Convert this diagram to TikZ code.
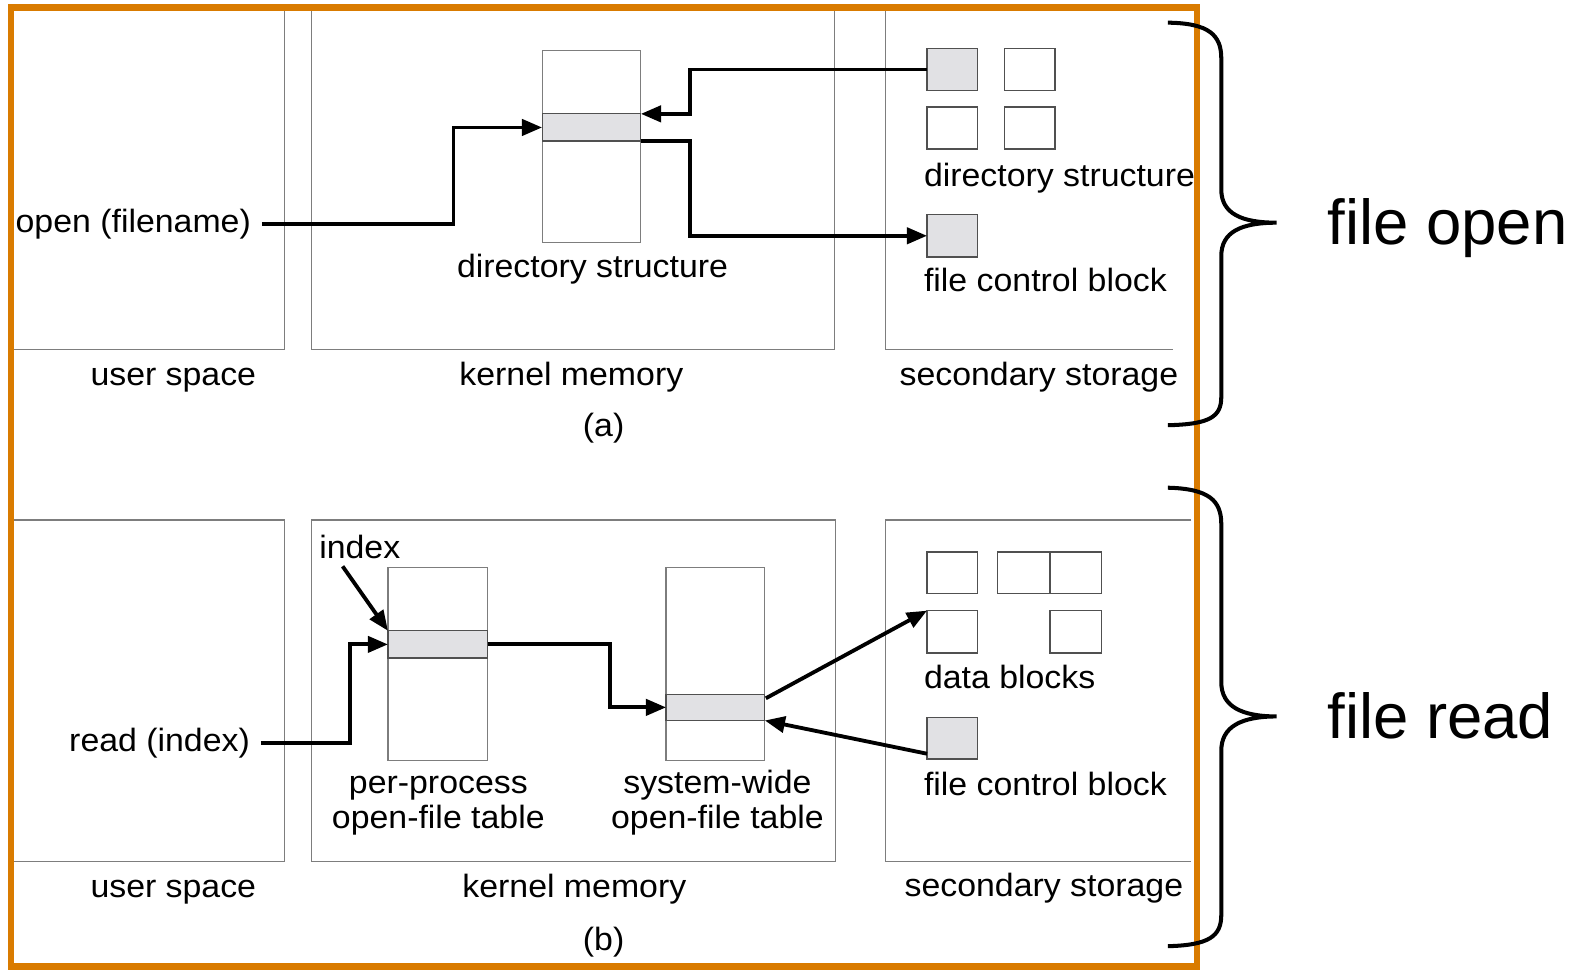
\documentclass[tikz,border=0pt]{standalone}
\usepackage{fontspec}
\setmainfont{Liberation Sans}
\newfontfamily\diagfont[FakeStretch=1.05]{Liberation Sans}
\usetikzlibrary{arrows.meta,calc}
\definecolor{frameorange}{RGB}{217,123,0}
\definecolor{rowgray}{RGB}{225,225,228}
\definecolor{linegray}{RGB}{125,125,125}
\definecolor{sqline}{RGB}{80,80,80}
\tikzset{
  region/.style={draw=linegray, line width=0.6pt},
  tablebox/.style={draw=linegray, line width=0.6pt, fill=white, inner sep=0pt, outer sep=0pt, anchor=north west},
  rowbox/.style={draw=sqline, line width=0.6pt, fill=rowgray, inner sep=0pt, outer sep=0pt, anchor=north west},
  blockbox/.style={draw=sqline, line width=0.8pt, fill=white, inner sep=0pt, outer sep=0pt, anchor=north west},
  grayblock/.style={blockbox, fill=rowgray},
  lbl/.style={font=\diagfont\fontsize{16}{16}\selectfont, inner sep=0pt, outer sep=0pt, anchor=base},
  lblw/.style={lbl, anchor=base west},
  lble/.style={lbl, anchor=base east},
  bigtxt/.style={font=\fontsize{31.5}{32}\selectfont, inner sep=0pt, anchor=base west},
  conn/.style={draw=black, line width=1.9pt},
  arr/.style={conn, -{Triangle[length=10pt,width=8pt]}},
  bracepath/.style={draw=black, line width=2pt},
}
\begin{document}
\begin{tikzpicture}[x=0.5pt, y=-0.5pt]
\useasboundingbox (0,0) rectangle (1568,962);
\fill[white] (0,0) rectangle (1568,962);

% ---------- (a) regions ----------
\draw[region] (11,7.5) rectangle (282,347);
\draw[region] (309,7.5) rectangle (828,347);
\draw[region] (879,7.5) -- (879,347) -- (1164,347);
% ---------- (b) regions ----------
\draw[region] (11,516) rectangle (282,855);
\draw[region] (309,516) rectangle (829,855);
\draw[region] (1182,516) -- (879,516) -- (879,855) -- (1182,855);

% ---------- (a) contents ----------
\node[tablebox, minimum width=49pt, minimum height=95.5pt] (dtable) at (538,50) {};
\node[rowbox, minimum width=49pt, minimum height=13.5pt] (dsrow) at (538,113) {};
\node[grayblock, minimum width=25pt, minimum height=21pt] (dsq1) at (920,48) {};
\node[blockbox, minimum width=25pt, minimum height=21pt] (dsq2) at (997,48) {};
\node[blockbox, minimum width=25pt, minimum height=21pt] (dsq3) at (920,106) {};
\node[blockbox, minimum width=25pt, minimum height=21pt] (dsq4) at (997,106) {};
\node[grayblock, minimum width=25pt, minimum height=21pt] (fcba) at (920,213) {};

\node[lble] (openlbl) at (249,231) {open (filename)};
\node[lbl] (dslbl) at (588,275) {directory structure};
\node[lblw] (dsrlbl) at (917,185) {directory structure};
\node[lblw] (fcbalbl) at (917,289.5) {file control block};
\node[lbl] (usa) at (172,383) {user space};
\node[lbl] (kma) at (567,383) {kernel memory};
\node[lbl] (ssa) at (1031,383) {secondary storage};
\node[lbl] (capa) at (599,433) {(a)};

\draw[arr] ([xshift=5.5pt,yshift=4.2pt]openlbl.base east) -| ($(dsrow.west)+(-88,0)$) -- (dsrow.west);
\draw[arr] (dsq1.west) -| ($(dsrow.north east)+(49,0)$) -- (dsrow.north east);
\draw[arr] (dsrow.south east) -| ($(fcba.west)+(-235,0)$) -- (fcba.west);

% ---------- (b) contents ----------
\node[tablebox, minimum width=49.5pt, minimum height=95.5pt] (pptable) at (385,563.5) {};
\node[rowbox, minimum width=49.5pt, minimum height=13.5pt] (pprow) at (385,626) {};
\node[tablebox, minimum width=49pt, minimum height=95.5pt] (swtable) at (661,563.5) {};
\node[rowbox, minimum width=49pt, minimum height=13pt] (swrow) at (661,689) {};

\node[blockbox, minimum width=25pt, minimum height=20.5pt] (db1) at (920,548) {};
\node[blockbox, minimum width=26pt, minimum height=20.5pt] (db2) at (990,548) {};
\node[blockbox, minimum width=25.5pt, minimum height=20.5pt] (db3) at (1042,548) {};
\node[blockbox, minimum width=25pt, minimum height=21pt] (db4) at (920,606) {};
\node[blockbox, minimum width=25.5pt, minimum height=21pt] (db5) at (1042,606) {};
\node[grayblock, minimum width=25pt, minimum height=20.5pt] (fcbb) at (920,712) {};

\node[lbl] (idxlbl) at (357,554) {index};
\node[lble] (readlbl) at (248,746) {read (index)};
\node[lbl] (pp1) at (435,787) {per-process};
\node[lbl] (pp2) at (435,822) {open-file table};
\node[lbl] (sw1) at (712,787) {system-wide};
\node[lbl] (sw2) at (712,822) {open-file table};
\node[lblw] (dblbl) at (917,683) {data blocks};
\node[lblw] (fcbblbl) at (917,789) {file control block};
\node[lbl] (usb) at (172,891) {user space};
\node[lbl] (kmb) at (570,891) {kernel memory};
\node[lbl] (ssb) at (1036,890) {secondary storage};
\node[lbl] (capb) at (599,943) {(b)};

\coordinate (idxstart) at (340,562);
\draw[arr] (idxstart) -- (pprow.north west);
\draw[arr] ([xshift=5.5pt,yshift=4.2pt]readlbl.base east) -| ($(pprow.west)+(-38,0)$) -- (pprow.west);
\draw[arr] (pprow.east) -| ($(swrow.west)+(-56,0)$) -- (swrow.west);
\draw[arr] ($(swrow.north east)+(1,4)$) -- (db4.north west);
\draw[arr] ($(fcbb.south west)+(0,-5)$) -- (swrow.south east);

% ---------- frame ----------
\draw[frameorange, line width=3.2pt] (11,7.5) rectangle (1188,959);

% ---------- braces ----------
\draw[bracepath] (1159,22.5) .. controls (1200,23) and (1212,35) .. (1212,58)
  -- (1212,188) .. controls (1212,212) and (1232,221) .. (1267,221)
  .. controls (1232,221) and (1212,230) .. (1212,254)
  -- (1212,394) .. controls (1212,414) and (1200,421) .. (1159,422);
\draw[bracepath] (1159,484) .. controls (1200,485) and (1212,497) .. (1212,520)
  -- (1212,677) .. controls (1212,701) and (1232,711) .. (1267,711)
  .. controls (1232,711) and (1212,721) .. (1212,745)
  -- (1212,908) .. controls (1212,929) and (1200,938) .. (1159,939);

\node[bigtxt] (fopen) at (1317,243) {file open};
\node[bigtxt] (fread) at (1317,733) {file read};
\end{tikzpicture}
\end{document}
